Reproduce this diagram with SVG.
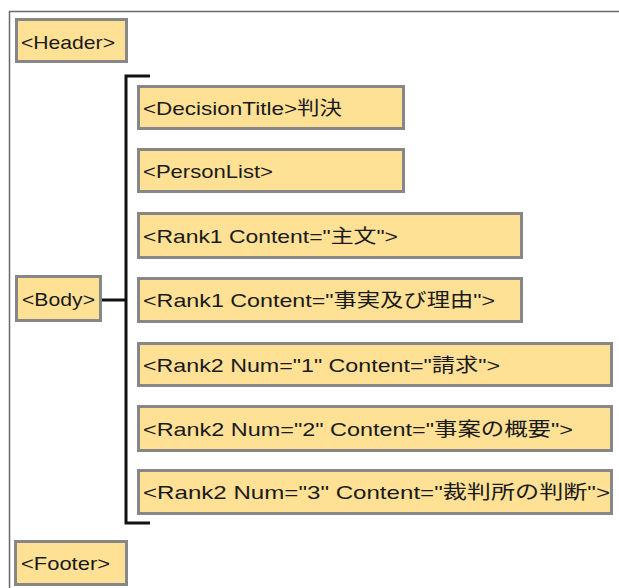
<svg xmlns="http://www.w3.org/2000/svg" width="619" height="588" viewBox="0 0 619 588">
<style>
.box{fill:#FFE196;stroke:#878787;stroke-width:3}
.t{font-family:"Liberation Sans","Noto Sans CJK JP",sans-serif;font-size:19px;fill:#1a1a1a}
.ln{fill:none;stroke:#111;stroke-width:3}
</style>
<rect width="619" height="588" fill="#ffffff"/>
<path d="M9.5,588 V11.5 H619" fill="none" stroke="#6a6a6a" stroke-width="1.5"/>
<g id="connectors">
<path class="ln" d="M150,76 H126 V523 H150"/>
<path class="ln" d="M102,300 H126"/>
</g>
<g id="header"><rect class="box" x="16.5" y="19.5" width="110" height="42"/><text class="t" x="21" y="49" textLength="94" lengthAdjust="spacingAndGlyphs">&lt;Header&gt;</text></g>
<g id="decisiontitle"><rect class="box" x="138.5" y="86.5" width="265" height="42"/><text class="t" x="143" y="115" textLength="199" lengthAdjust="spacingAndGlyphs">&lt;DecisionTitle&gt;判決</text></g>
<g id="personlist"><rect class="box" x="138.5" y="149.5" width="265" height="42"/><text class="t" x="143" y="178" textLength="130" lengthAdjust="spacingAndGlyphs">&lt;PersonList&gt;</text></g>
<g id="rank1-shubun"><rect class="box" x="138.5" y="213.5" width="383" height="44"/><text class="t" x="143" y="243" textLength="255" lengthAdjust="spacingAndGlyphs">&lt;Rank1 Content="主文"&gt;</text></g>
<g id="body"><rect class="box" x="16.5" y="276.5" width="84" height="44"/><text class="t" x="22" y="306" textLength="73" lengthAdjust="spacingAndGlyphs">&lt;Body&gt;</text></g>
<g id="rank1-jijitsu"><rect class="box" x="138.5" y="278.5" width="383" height="43"/><text class="t" x="143" y="307" textLength="352" lengthAdjust="spacingAndGlyphs">&lt;Rank1 Content="事実及び理由"&gt;</text></g>
<g id="rank2-1"><rect class="box" x="138.5" y="343.5" width="473" height="42"/><text class="t" x="143" y="372" textLength="357" lengthAdjust="spacingAndGlyphs">&lt;Rank2 Num="1" Content="請求"&gt;</text></g>
<g id="rank2-2"><rect class="box" x="138.5" y="406.5" width="473" height="44"/><text class="t" x="143" y="436" textLength="430" lengthAdjust="spacingAndGlyphs">&lt;Rank2 Num="2" Content="事案の概要"&gt;</text></g>
<g id="rank2-3"><rect class="box" x="138.5" y="470.5" width="473" height="43"/><text class="t" x="143" y="499" textLength="467" lengthAdjust="spacingAndGlyphs">&lt;Rank2 Num="3"  Content="裁判所の判断"&gt;</text></g>
<g id="footer"><rect class="box" x="15.5" y="541.5" width="111" height="43"/><text class="t" x="21" y="570" textLength="89" lengthAdjust="spacingAndGlyphs">&lt;Footer&gt;</text></g>
</svg>
